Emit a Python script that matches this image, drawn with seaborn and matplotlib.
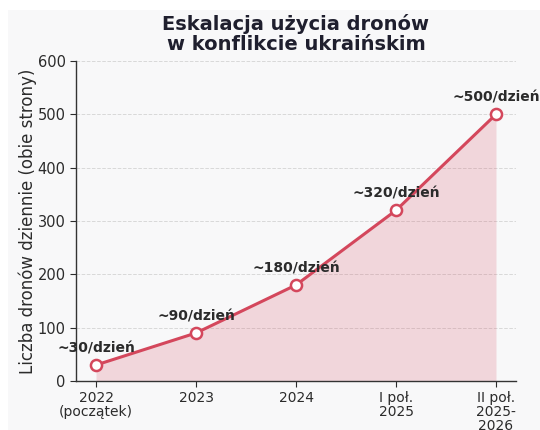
import matplotlib
matplotlib.use("Agg")
import matplotlib.pyplot as plt
from matplotlib.patches import Rectangle
import seaborn as sns
import pandas as pd

# Daily drone use estimates (both sides)
periods = ["2022\n(początek)", "2023", "2024", "I poł.\n2025", "II poł.\n2025-\n2026"]
drones_per_day = [30, 90, 180, 320, 500]
value_labels = ["~30/dzień", "~90/dzień", "~180/dzień", "~320/dzień", "~500/dzień"]
y_ticks = [0, 100, 200, 300, 400, 500, 600]

df = pd.DataFrame({"pos": range(len(periods)), "drones": drones_per_day})

sns.set_theme(style="white")
plt.rcParams["font.family"] = ["DejaVu Sans"]

bg = "#f8f8f9"
line_color = "#d4475c"
text_dark = "#2b2b2b"

fig = plt.figure(figsize=(5.4, 4.3), dpi=100)
fig.patch.set_facecolor("white")
fig.patches.append(Rectangle((8 / 540, 0), 1, 1 - 10 / 430, transform=fig.transFigure,
                             facecolor=bg, edgecolor="none", zorder=-10))

ax = fig.add_axes([76 / 540, 1 - 381 / 430, (516 - 76) / 540, (381 - 61) / 430])
ax.set_facecolor(bg)

ax.fill_between(df["pos"], df["drones"], color=line_color, alpha=0.19, linewidth=0, zorder=1)
sns.lineplot(data=df, x="pos", y="drones", ax=ax, color=line_color, linewidth=2.2,
             marker="o", markersize=8, markerfacecolor="white", markeredgecolor=line_color,
             markeredgewidth=1.8, zorder=3)

for x, y, lab in zip(df["pos"], df["drones"], value_labels):
    ax.annotate(lab, (x, y), xytext=(0, 7), textcoords="offset points", ha="center",
                va="bottom", fontsize=10, fontweight="bold", color=text_dark, zorder=4)

ax.set_xlim(-0.2, 4.2)
ax.set_ylim(0, 600)
ax.set_yticks(y_ticks)
ax.set_xticks(range(len(periods)))
ax.set_xticklabels(periods, linespacing=1.0)
ax.tick_params(axis="both", labelsize=10, colors=text_dark, length=4, width=0.8,
               direction="out", bottom=True, left=True)
ax.tick_params(axis="y", labelsize=10.5)
ax.set_xlabel("")
ax.set_ylabel("Liczba dronów dziennie (obie strony)", fontsize=12, color=text_dark, labelpad=0)
ax.yaxis.grid(True, linestyle="--", color="#d9d9d9", linewidth=0.7)
ax.set_axisbelow(True)

for side in ["top", "right"]:
    ax.spines[side].set_visible(False)
for side in ["left", "bottom"]:
    ax.spines[side].set_color("#333333")
    ax.spines[side].set_linewidth(1.0)

ax.set_title("Eskalacja użycia dronów\nw konflikcie ukraińskim", fontsize=14,
             fontweight="bold", color="#1f1f2e", pad=8, linespacing=1.05)

fig.savefig("out.png", dpi=100, facecolor=fig.get_facecolor())
